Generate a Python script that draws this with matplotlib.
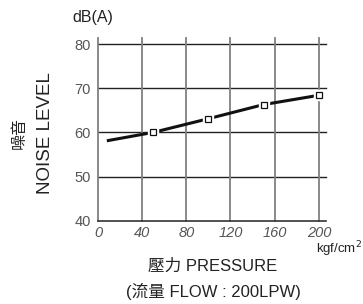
"""Noise level vs pressure chart (噪音 / NOISE LEVEL)."""
import matplotlib

matplotlib.use("Agg")
import matplotlib.pyplot as plt  # noqa: E402

# data
pressure = [8, 50, 100, 150, 200]
noise = [58.1, 60.0, 63.1, 66.3, 68.4]
marked_pressure = [50, 100, 150, 200]
marked_noise = [60.0, 63.1, 66.3, 68.4]
x_ticks = [0, 40, 80, 120, 160, 200]
y_ticks = [40, 50, 60, 70, 80]

FONT = ["Liberation Sans", "Noto Sans CJK TC", "DejaVu Sans"]
plt.rcParams["font.family"] = FONT

fig = plt.figure(figsize=(3.63, 3.04), dpi=100)
ax = fig.add_axes([0.270, 0.274, 0.628, 0.581])
ax.set_xlim(0, 206.5)
ax.set_ylim(40, 80)

# grid: dark horizontal, grey vertical lines running a bit above the top
for y in y_ticks[1:]:
    ax.plot([0, 206.5], [y, y], color="#222222", lw=1.0, clip_on=False, zorder=1)
for x in x_ticks:
    ax.plot([x, x], [40, 81.4], color="#808080", lw=1.3, clip_on=False, zorder=1)
ax.plot([0, 206.5], [40, 40], color="#333333", lw=1.2, clip_on=False, zorder=1)

for s in ax.spines.values():
    s.set_visible(False)

ax.plot(pressure, noise, color="#111111", lw=2.2, solid_capstyle="butt", zorder=3)
ax.plot(marked_pressure, marked_noise, linestyle="none", marker="s", markersize=7,
        markerfacecolor="white", markeredgecolor="white", zorder=4)
ax.plot(marked_pressure, marked_noise, linestyle="none", marker="s", markersize=4.5,
        markerfacecolor="white", markeredgecolor="#111111", markeredgewidth=0.9, zorder=5)

ax.set_xticks(x_ticks)
ax.set_yticks(y_ticks)
ax.tick_params(length=0, labelsize=10.5, labelcolor="#555555")
ax.tick_params(axis="x", pad=3.5)
ax.tick_params(axis="y", pad=5)
for lab in ax.get_xticklabels():
    lab.set_style("italic")

fig.text(0.256, 0.942, "dB(A)", ha="center", va="center", fontsize=11.5, color="#222222")
fig.text(0.052, 0.562, "噪音", rotation=90, ha="center", va="center",
         fontsize=11.5, color="#222222")
fig.text(0.124, 0.562, "NOISE LEVEL", rotation=90, ha="center", va="center",
         fontsize=13.5, color="#222222")
fig.text(0.997, 0.180, "kgf/cm$^2$", ha="right", va="center", fontsize=9.5,
         color="#222222")
fig.text(0.587, 0.124, "壓力 PRESSURE", ha="center", va="center", fontsize=12,
         color="#222222")
fig.text(0.587, 0.040, "(流量 FLOW : 200LPW)", ha="center", va="center",
         fontsize=12, color="#222222")

fig.savefig("out.png", dpi=100)
